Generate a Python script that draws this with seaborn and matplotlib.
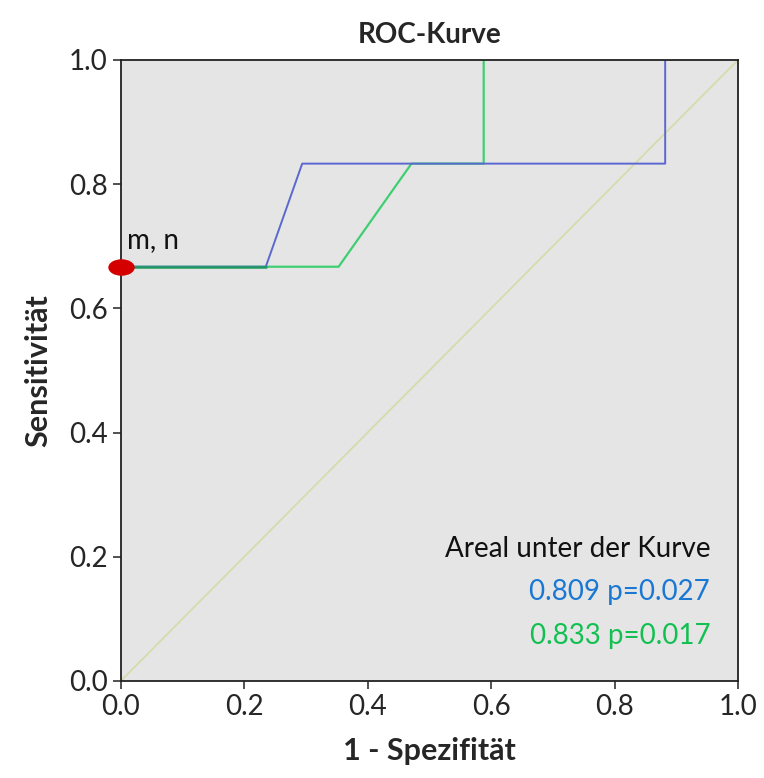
"""ROC-Kurve mit zwei Tests, nachgebaut mit seaborn."""

import matplotlib.pyplot as plt
import pandas as pd
import seaborn as sns
from matplotlib.path import Path
from matplotlib.transforms import Affine2D

# Kurvenpunkte (1 - Spezifität, Sensitivität)
fpr_blau = [0.0, 0.235, 0.294, 0.882, 0.882]
tpr_blau = [0.667, 0.667, 0.833, 0.833, 1.0]
fpr_gruen = [0.0, 0.353, 0.471, 0.588, 0.588]
tpr_gruen = [0.667, 0.667, 0.833, 0.833, 1.0]
diagonale = [0.0, 1.0]
punkt_x = [0.0]
punkt_y = [0.667]
punkt_label = "m, n"
ticks = [0.0, 0.2, 0.4, 0.6, 0.8, 1.0]
auc_texte = ["0.809 p=0.027", "0.833 p=0.017"]

sns.set_style("ticks")
plt.rcParams["font.family"] = ["Lato", "DejaVu Sans"]

fig = plt.figure(figsize=(7.64, 7.78), dpi=100)
ax = fig.add_axes([0.158, 0.1247, 0.808, 0.7983])
ax.set_facecolor("#e5e5e5")

df_diag = pd.DataFrame({"x": diagonale, "y": diagonale})
sns.lineplot(data=df_diag, x="x", y="y", ax=ax, color="#d5dcac", lw=1.3,
             sort=False, estimator=None)

df_gruen = pd.DataFrame({"x": fpr_gruen, "y": tpr_gruen})
sns.lineplot(data=df_gruen, x="x", y="y", ax=ax, color="#3fcf72", lw=1.6,
             sort=False, estimator=None)

df_blau = pd.DataFrame({"x": fpr_blau, "y": tpr_blau})
sns.lineplot(data=df_blau, x="x", y="y", ax=ax, color="#5a68d0", lw=1.4,
             sort=False, estimator=None)

# Überlappender Anfang dunkler grün
ax.plot(fpr_blau[:2], tpr_blau[:2], color="#1f9a5e", lw=1.8)

# roter Punkt, etwas breiter als hoch
ellipse = Path.unit_circle().transformed(Affine2D().scale(1.6, 1.0))
ax.plot(punkt_x, punkt_y, marker=ellipse, ms=19, color="#d40000", ls="none",
        clip_on=False, zorder=5, markeredgewidth=0)
ax.text(punkt_x[0] + 0.01, punkt_y[0] + 0.03, punkt_label, fontsize=20, color="#111111")

ax.text(0.955, 0.2, "Areal unter der Kurve", fontsize=20, ha="right", color="#111111")
ax.text(0.955, 0.13, auc_texte[0], fontsize=20, ha="right", color="#1a78d4")
ax.text(0.955, 0.06, auc_texte[1], fontsize=20, ha="right", color="#12c052")

ax.set_xlim(0, 1)
ax.set_ylim(0, 1)
ax.set_xticks(ticks)
ax.set_yticks(ticks)
ax.set_xticklabels([f"{t:.1f}" for t in ticks], fontsize=20)
ax.set_yticklabels([f"{t:.1f}" for t in ticks], fontsize=20)
ax.tick_params(length=6, width=1.2, color="#333333")
for s in ax.spines.values():
    s.set_color("#222222")
    s.set_linewidth(1.3)

ax.set_title("ROC-Kurve", fontsize=20, fontweight="bold", pad=12)
ax.set_xlabel("1 - Spezifität", fontsize=22, fontweight="bold", labelpad=12)
ax.set_ylabel("Sensitivität", fontsize=22, fontweight="bold", labelpad=12)

fig.savefig("out.png", dpi=100)
